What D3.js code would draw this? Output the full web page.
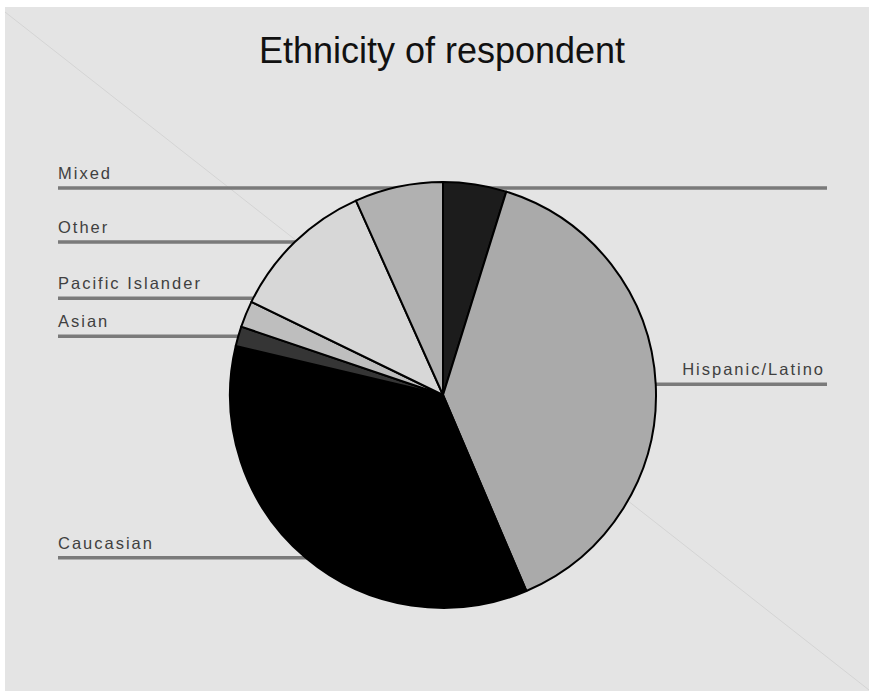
<!DOCTYPE html>
<html>
<head>
<meta charset="utf-8">
<script src="https://cdn.jsdelivr.net/npm/d3@7"></script>
<style>
  html, body { margin: 0; padding: 0; background: #ffffff; }
  svg { display: block; }
</style>
</head>
<body>
<script>
// ---- data (percent of respondents) ----
const title = "Ethnicity of respondent";
const categories = ["", "Hispanic/Latino", "Caucasian", "Asian", "Pacific Islander", "Other", "Mixed"];
const values = [4.8, 38.8, 35.1, 1.5, 2.0, 11.1, 6.7];
const colors = ["#1c1c1c", "#aaaaaa", "#000000", "#353535", "#bebebe", "#d7d7d7", "#b1b1b1"];

// ---- layout ----
const W = 869, H = 692;
const cx = 443, cy = 395, R = 213;
const leftX = 58, rightX = 827;

const svg = d3.select("body").append("svg").attr("width", W).attr("height", H);

// plot background
svg.append("rect").attr("x", 5).attr("y", 7).attr("width", W - 5).attr("height", H - 8)
  .attr("fill", "#e4e4e4");
// faint diagonal
svg.append("line").attr("x1", 5).attr("y1", 12).attr("x2", W).attr("y2", H - 2)
  .attr("stroke", "#d4d4d4").attr("stroke-width", 1);

// title
svg.append("text").attr("x", 442).attr("y", 63).attr("text-anchor", "middle")
  .attr("font-family", "Liberation Sans, Arial, sans-serif").attr("font-size", 36)
  .attr("fill", "#111").text(title);

const data = categories.map((c, i) => ({ cat: c, value: values[i], color: colors[i] }));
const pie = d3.pie().value(d => d.value).sort(null);
const arcs = pie(data);
const arc = d3.arc().innerRadius(0).outerRadius(R);

// label positions from slice mid-angles, with collision avoidance
const minGap = 38;
const items = arcs.map(a => {
  const mid = (a.startAngle + a.endAngle) / 2;
  return { a, side: Math.sin(mid) < 0 ? "left" : "right", y: cy - R * Math.cos(mid) };
});
items.forEach(it => { it.y = Math.max(it.y, cy - R + 6); });
["left", "right"].forEach(side => {
  const group = items.filter(it => it.side === side).sort((p, q) => q.y - p.y);
  for (let i = 1; i < group.length; i++) {
    if (group[i - 1].y - group[i].y < minGap) group[i].y = group[i - 1].y - minGap;
  }
});

const g = svg.append("g");
// leader lines (behind the pie)
g.selectAll("line.leader").data(items).join("line").attr("class", "leader")
  .attr("x1", d => d.side === "left" ? leftX : cx)
  .attr("x2", d => d.side === "left" ? cx : rightX)
  .attr("y1", d => d.y).attr("y2", d => d.y)
  .attr("stroke", "#7a7a7a").attr("stroke-width", 3.5);

// labels
g.selectAll("text.lab").data(items.filter(d => d.a.data.cat !== "")).join("text").attr("class", "lab")
  .attr("x", d => d.side === "left" ? leftX : rightX - 2)
  .attr("y", d => d.y - 9)
  .attr("text-anchor", d => d.side === "left" ? "start" : "end")
  .attr("font-family", "Liberation Sans, Arial, sans-serif").attr("font-size", 16.5)
  .attr("letter-spacing", 2)
  .attr("fill", "#404040")
  .text(d => d.a.data.cat);

// pie
svg.append("g").attr("transform", `translate(${cx},${cy})`)
  .selectAll("path").data(arcs).join("path")
  .attr("d", arc)
  .attr("fill", d => d.data.color)
  .attr("stroke", "#000").attr("stroke-width", 2).attr("stroke-linejoin", "round");
</script>
</body>
</html>
